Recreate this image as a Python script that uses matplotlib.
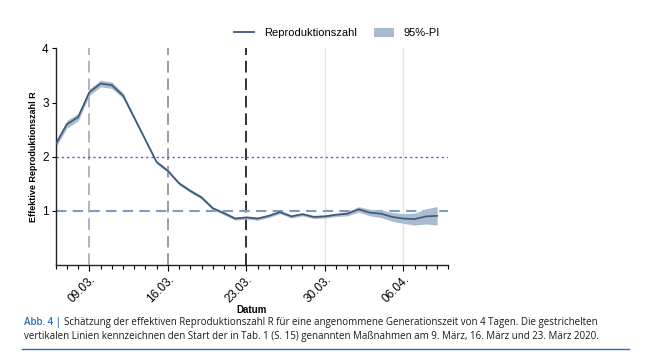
import matplotlib
matplotlib.use("Agg")
import matplotlib.pyplot as plt
import matplotlib.dates as mdates
import matplotlib.patches as mpatches
import matplotlib.lines as mlines
import pandas as pd

# ---- data ----
start_date = "2020-03-06"
R = [2.23, 2.60, 2.73, 3.19, 3.35, 3.32, 3.13, 2.72, 2.31, 1.90, 1.74, 1.51,
     1.37, 1.25, 1.05, 0.96, 0.86, 0.88, 0.86, 0.91, 0.98, 0.90, 0.94, 0.89,
     0.90, 0.93, 0.95, 1.03, 0.97, 0.95, 0.89, 0.86, 0.85, 0.90, 0.91]
upper = [2.29, 2.67, 2.80, 3.25, 3.41, 3.38, 3.18, 2.76, 2.34, 1.93, 1.77, 1.54,
         1.40, 1.28, 1.08, 0.99, 0.89, 0.91, 0.89, 0.94, 1.01, 0.93, 0.97, 0.92,
         0.93, 0.96, 0.99, 1.08, 1.03, 1.02, 0.97, 0.95, 0.96, 1.04, 1.08]
lower = [2.17, 2.53, 2.66, 3.13, 3.29, 3.26, 3.08, 2.68, 2.28, 1.87, 1.71, 1.48,
         1.34, 1.22, 1.02, 0.93, 0.83, 0.85, 0.83, 0.88, 0.95, 0.87, 0.91, 0.86,
         0.87, 0.90, 0.91, 0.98, 0.91, 0.88, 0.81, 0.77, 0.74, 0.76, 0.74]
tick_dates = ["2020-03-09", "2020-03-16", "2020-03-23", "2020-03-30", "2020-04-06"]
tick_labels = ["09.03.", "16.03.", "23.03.", "30.03.", "06.04."]
measure_dates = ["2020-03-09", "2020-03-16", "2020-03-23"]
grid_dates = ["2020-03-30", "2020-04-06"]
x_start, x_end = "2020-03-06", "2020-04-10"
y_ticks = [1, 2, 3, 4]
ref_levels = [1, 2]

caption_head = "Abb. 4 | "
caption_l1 = ("Schätzung der effektiven Reproduktionszahl R für eine angenommene "
              "Generationszeit von 4 Tagen. Die gestrichelten")
caption_l2 = ("vertikalen Linien kennzeichnen den Start der in Tab. 1 (S. 15) genannten "
              "Maßnahmen am 9. März, 16. März und 23. März 2020.")

dates = pd.date_range(start_date, periods=len(R), freq="D")

plt.rcParams['font.family'] = ['Liberation Sans', 'DejaVu Sans']

fig = plt.figure(figsize=(6.46, 3.62), dpi=100)
ax = fig.add_axes([0.0862, 0.2674, 0.6078, 0.5992])

line_col = "#3b5878"
band_col = "#a9bbcd"

# vertical reference lines
mcols = ["#a8a8a8", "#8c8c8c", "#111111"]
for d, c in zip(measure_dates, mcols):
    ax.axvline(pd.Timestamp(d), color=c, lw=1.2, dashes=(7, 3.5), zorder=1)
for d in grid_dates:
    ax.axvline(pd.Timestamp(d), color="#e3e3e3", lw=1.0, zorder=0)

# horizontal lines
ax.axhline(ref_levels[1], color="#3f6fb0", lw=1.0, dashes=(1.6, 2.2), zorder=1)
ax.axhline(ref_levels[0], color="#7f9bc0", lw=1.5, dashes=(5, 3), zorder=1)

ax.fill_between(dates, lower, upper, color=band_col, lw=0, zorder=2)
ax.plot(dates, R, color=line_col, lw=1.2, zorder=3)

ax.set_xlim(pd.Timestamp(x_start), pd.Timestamp(x_end))
ax.set_ylim(0, 4)
ax.set_yticks(y_ticks)
ax.set_yticklabels([str(v) for v in y_ticks])
ax.set_xticks([pd.Timestamp(d) for d in tick_dates])
ax.set_xticklabels(tick_labels, rotation=45, ha="right", rotation_mode="anchor")
ax.xaxis.set_minor_locator(mdates.DayLocator())
ax.tick_params(axis="x", which="major", length=4, width=0.8, labelsize=8.5, pad=2)
ax.tick_params(axis="x", which="minor", length=3, width=0.8)
ax.tick_params(axis="y", which="major", length=3, width=0.8, labelsize=8.5, pad=2)

for s in ["top", "right"]:
    ax.spines[s].set_visible(False)
for s in ["left", "bottom"]:
    ax.spines[s].set_linewidth(1.0)
    ax.spines[s].set_color("#222222")

ax.set_xlabel("Datum", fontsize=7, fontweight="bold", labelpad=0)
ax.set_ylabel("Effektive Reproduktionszahl R", fontsize=6.5, fontweight="bold", labelpad=3)

# legend
h_line = mlines.Line2D([], [], color=line_col, lw=1.3)
h_band = mpatches.Patch(facecolor=band_col, edgecolor="none")
fig.legend([h_line, h_band], ["Reproduktionszahl", "95%-PI"],
           loc="center", bbox_to_anchor=(0.522, 0.909), ncol=2, frameon=False,
           fontsize=8, handlelength=1.8, handleheight=1.0, columnspacing=1.5,
           handletextpad=0.9)

# caption
cap_font = ['Open Sans', 'DejaVu Sans']
renderer = fig.canvas.get_renderer()
fs = 8
probe = fig.text(0, 0, caption_head + caption_l1, fontsize=fs, family=cap_font)
w = probe.get_window_extent(renderer).width
probe.remove()
fs = fs * 576.0 / w

x0 = 24 / 646
y1 = 1 - 323 / 362
y2 = 1 - 336 / 362
t_head = fig.text(x0, y1, caption_head, fontsize=fs, family=cap_font,
                  color="#2a6fb5", va="center", fontweight="semibold")
wh = t_head.get_window_extent(renderer).width
fig.text(x0 + wh / 646, y1, caption_l1, fontsize=fs, family=cap_font,
         color="#1a1a1a", va="center")
fig.text(x0, y2, caption_l2, fontsize=fs, family=cap_font,
         color="#1a1a1a", va="center")
fig.add_artist(mlines.Line2D([22 / 646, 629 / 646], [1 - 349 / 362, 1 - 349 / 362],
                             color="#2a6fb5", lw=1.0, transform=fig.transFigure))

fig.savefig("out.png", dpi=100)
